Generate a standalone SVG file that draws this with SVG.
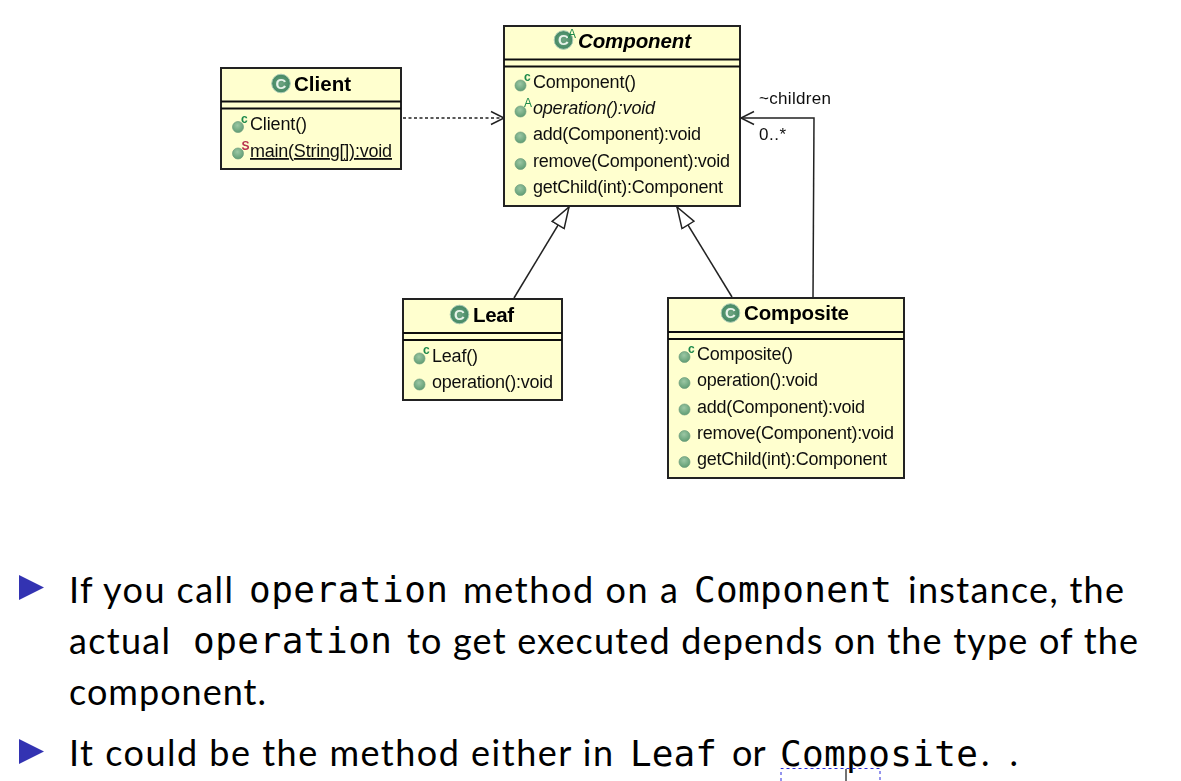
<svg xmlns="http://www.w3.org/2000/svg" width="1181" height="781" viewBox="0 0 1181 781">
<style>
.box{fill:#ffffcf;stroke:#222;stroke-width:2}
.div{stroke:#111;stroke-width:2;fill:none}
.t{font-family:"Liberation Sans",Arial,sans-serif;font-size:18px;fill:#111}
.h{font-family:"Liberation Sans",Arial,sans-serif;font-size:20.500px;font-weight:bold;fill:#000}
.lab{font-family:"Liberation Sans",Arial,sans-serif;font-size:17px;fill:#111}
.mk{font-family:"Liberation Sans",Arial,sans-serif;font-size:12px;font-weight:bold;fill:#1f8a4c}
.mks{font-family:"Liberation Sans",Arial,sans-serif;font-size:12px;font-weight:bold;fill:#b8324f}
.mka{font-family:"Liberation Sans",Arial,sans-serif;font-size:12px;fill:#1f8a4c}
.g{font-family:"Liberation Sans",Arial,sans-serif;font-size:15px;font-weight:bold;fill:#e8f3ea}
.s{font-family:Lato,"Open Sans",sans-serif;font-size:36px;fill:#000}
.m{font-family:"DejaVu Sans Mono",monospace;font-size:36px;fill:#000}
.con{fill:none;stroke:#222;stroke-width:1.500}
</style>
<defs>
<filter id="soft" x="-5%" y="-5%" width="110%" height="110%"><feGaussianBlur stdDeviation="0.350"/></filter>
<radialGradient id="dot" cx="45%" cy="35%" r="70%"><stop offset="0" stop-color="#9cc7a4"/><stop offset="1" stop-color="#5c9a70"/></radialGradient>
<radialGradient id="cls" cx="50%" cy="50%" r="55%"><stop offset="0" stop-color="#6fa582"/><stop offset="1" stop-color="#3f8560"/></radialGradient>
<g id="m"><circle cx="0" cy="0" r="5.500" fill="url(#dot)" stroke="#6d9c7c" stroke-width=".7"/></g>
<g id="c"><circle cx="0" cy="0" r="9.300" fill="url(#cls)" stroke="#a9c9b3" stroke-width="1"/><text class="g" x="0" y="5.400" text-anchor="middle">C</text></g>
<marker id="open" markerUnits="userSpaceOnUse" markerWidth="16" markerHeight="16" refX="14" refY="8" orient="auto"><path d="M1 1.500L14 8L1 14.500" fill="none" stroke="#222" stroke-width="1.500"/></marker>
<marker id="tri" markerUnits="userSpaceOnUse" markerWidth="26" markerHeight="20" refX="22" refY="10" orient="auto"><path d="M1 3L22 10L1 17Z" fill="#fff" stroke="#222" stroke-width="1.500"/></marker>
</defs>
<rect width="1181" height="781" fill="#fff"/>
<g id="diagram" filter="url(#soft)">
<g id="connectors">
<path class="con" d="M403 118H504" stroke-dasharray="3 2.500" marker-end="url(#open)"/>
<path class="con" d="M514 298L569 207" marker-end="url(#tri)"/>
<path class="con" d="M732 297L677 207" marker-end="url(#tri)"/>
<path class="con" d="M813 297L814 118H741" marker-end="url(#open)"/>
<text class="lab" x="759" y="104" textLength="72">~children</text>
<text class="lab" x="759" y="140" textLength="27">0..*</text>
</g>
<g id="client">
<rect class="box" x="221" y="68" width="180" height="101"/>
<path class="div" d="M221 101.500H401M221 108.500H401"/>
<use href="#c" x="281" y="83.500"/>
<text class="h" x="294" y="90.500" textLength="57">Client</text>
<use href="#m" x="238" y="127"/><text class="mk" x="241" y="122.500">c</text>
<text class="t" x="250" y="130" textLength="57">Client()</text>
<use href="#m" x="238" y="153.500"/><text class="mks" x="241.500" y="149.500">S</text>
<text class="t" x="250" y="157" textLength="142" text-decoration="underline">main(String[]):void</text>
</g>
<g id="component">
<rect class="box" x="504" y="26" width="236" height="180"/>
<path class="div" d="M504 59.500H740M504 66.500H740"/>
<use href="#c" x="563.500" y="40"/><text class="mka" x="568" y="38">A</text>
<text class="h" x="578" y="48" textLength="113" font-style="italic">Component</text>
<use href="#m" x="520.500" y="85.500"/><text class="mk" x="524" y="81">c</text>
<text class="t" x="533" y="88" textLength="103">Component()</text>
<use href="#m" x="520.500" y="111.500"/><text class="mka" x="524" y="107">A</text>
<text class="t" x="533" y="114" textLength="122" font-style="italic">operation():void</text>
<use href="#m" x="520.500" y="137.500"/>
<text class="t" x="533" y="140" textLength="168">add(Component):void</text>
<use href="#m" x="520.500" y="164"/>
<text class="t" x="533" y="167" textLength="197">remove(Component):void</text>
<use href="#m" x="520.500" y="190"/>
<text class="t" x="533" y="193" textLength="190">getChild(int):Component</text>
</g>
<g id="leaf">
<rect class="box" x="403" y="299" width="159" height="101"/>
<path class="div" d="M403 333H562M403 340H562"/>
<use href="#c" x="459.500" y="314.500"/>
<text class="h" x="473" y="322" textLength="41">Leaf</text>
<use href="#m" x="419.500" y="358.500"/><text class="mk" x="423" y="354">c</text>
<text class="t" x="432" y="362" textLength="46">Leaf()</text>
<use href="#m" x="419.500" y="384.500"/>
<text class="t" x="432" y="388" textLength="121">operation():void</text>
</g>
<g id="composite">
<rect class="box" x="668" y="298" width="236" height="180"/>
<path class="div" d="M668 332H904M668 339H904"/>
<use href="#c" x="730.500" y="313"/>
<text class="h" x="744" y="320" textLength="105">Composite</text>
<use href="#m" x="684.500" y="357"/><text class="mk" x="688" y="353">c</text>
<text class="t" x="697" y="360" textLength="96">Composite()</text>
<use href="#m" x="684.500" y="383"/>
<text class="t" x="697" y="386" textLength="121">operation():void</text>
<use href="#m" x="684.500" y="409.500"/>
<text class="t" x="697" y="413" textLength="168">add(Component):void</text>
<use href="#m" x="684.500" y="436"/>
<text class="t" x="697" y="439" textLength="197">remove(Component):void</text>
<use href="#m" x="684.500" y="462"/>
<text class="t" x="697" y="465" textLength="190">getChild(int):Component</text>
</g>
</g>
<g id="bullets">
<path d="M19 575L44 587.500L19 600Z" fill="#3333b2"/>
<path d="M19 739L44 751.500L19 764Z" fill="#3333b2"/>
<text class="s" x="69" y="602.500" textLength="164">If you call</text>
<text class="m" x="249" y="602" textLength="199">operation</text>
<text class="s" x="463" y="602.500" textLength="215">method on a</text>
<text class="m" x="694" y="602" textLength="198">Component</text>
<text class="s" x="908" y="602.500" textLength="216">instance, the</text>
<text class="s" x="69" y="653.500" textLength="101">actual</text>
<text class="m" x="193" y="653" textLength="199">operation</text>
<text class="s" x="407" y="653.500" textLength="731">to get executed depends on the type of the</text>
<text class="s" x="69" y="704.500" textLength="197">component.</text>
<text class="s" x="69" y="766" textLength="544">It could be the method either in</text>
<text class="m" x="630" y="766" textLength="87">Leaf</text>
<text class="s" x="732" y="766">or</text>
<text class="m" x="780" y="766" textLength="198">Composite</text>
<text class="s" x="981" y="766" textLength="37">. .</text>
</g>
<g id="selection">
<path d="M781 781V768.500H880V781" fill="none" stroke="#2b2bdd" stroke-width="1" stroke-dasharray="3 3"/>
<path d="M846 769V781" stroke="#444" stroke-width="1.500"/>
</g>
</svg>
